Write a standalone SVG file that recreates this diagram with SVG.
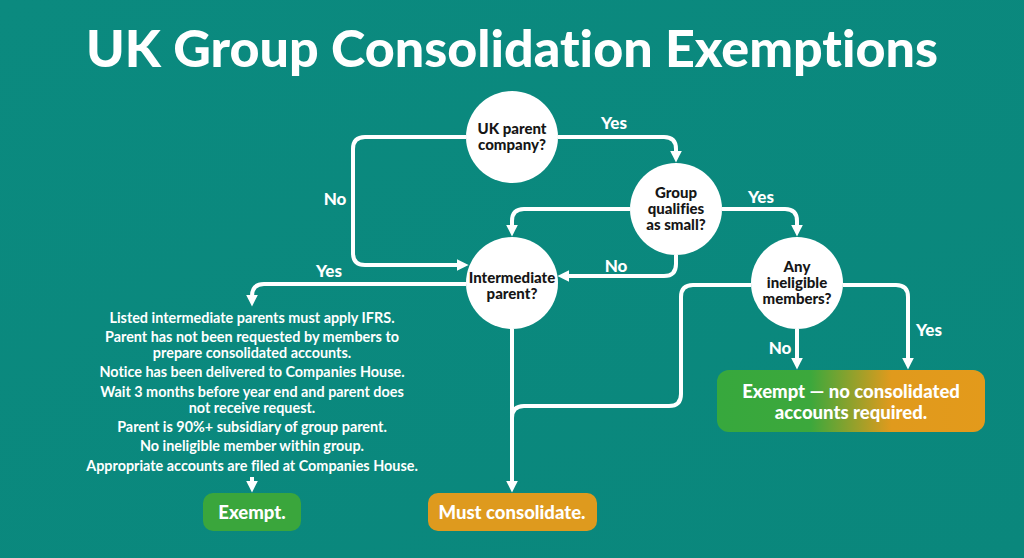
<svg xmlns="http://www.w3.org/2000/svg" width="1024" height="558" viewBox="0 0 1024 558">
  <defs>
    <linearGradient id="bg" x1="0" y1="0" x2="1" y2="1">
      <stop offset="0" stop-color="#0b8a7f"/>
      <stop offset="1" stop-color="#0a877c"/>
    </linearGradient>
    <linearGradient id="exgrad" x1="0" y1="0" x2="1" y2="0">
      <stop offset="0" stop-color="#37a83d"/>
      <stop offset="0.35" stop-color="#3ca83c"/>
      <stop offset="0.65" stop-color="#e09a1d"/>
      <stop offset="1" stop-color="#e39a1b"/>
    </linearGradient>
    <marker id="arr" viewBox="0 0 10 10" refX="2" refY="5" markerWidth="12" markerHeight="12" markerUnits="userSpaceOnUse" orient="auto">
      <path d="M0,0 L10,5 L0,10 Z" fill="#ffffff"/>
    </marker>
    <style>
      text { font-variant-ligatures: none; font-family: Lato, "Open Sans", "Liberation Sans", sans-serif; }
      .title { font-weight: 900; font-size: 51px; fill: #ffffff; }
      .q { font-weight: 900; font-size: 15px; fill: #161616; text-anchor: middle; }
      .lbl { font-weight: 900; font-size: 17px; fill: #ffffff; text-anchor: middle; }
      .cond { font-weight: 700; font-size: 14.4px; fill: #ffffff; text-anchor: middle; }
      .box { font-weight: 900; font-size: 18.5px; fill: #ffffff; text-anchor: middle; }
      .circ { fill: #ffffff; }
      .conn path { fill: none; stroke: #ffffff; stroke-width: 4; }
    </style>
  </defs>

  <rect x="0" y="0" width="1024" height="558" fill="url(#bg)"/>

  <text class="title" x="512" y="67" text-anchor="middle" textLength="852" lengthAdjust="spacingAndGlyphs">UK Group Consolidation Exemptions</text>

  <g id="connectors" class="conn">
    <path d="M466,137 H365 Q353,137 353,149 V253 Q353,265 365,265 H459" marker-end="url(#arr)"/>
    <path d="M558,137 H664 Q676,137 676,149 V153" marker-end="url(#arr)"/>
    <path d="M630,209 H524 Q512,209 512,221 V227" marker-end="url(#arr)"/>
    <path d="M676,255 V264 Q676,276 664,276 H567" marker-end="url(#arr)"/>
    <path d="M722,209 H785 Q797,209 797,221 V227" marker-end="url(#arr)"/>
    <path d="M466,284 H264 Q252,284 252,296 V297" marker-end="url(#arr)"/>
    <path d="M512,329 V483" marker-end="url(#arr)"/>
    <path d="M751,285 H693 Q681,285 681,297 V394 Q681,406 669,406 H524 Q512,406 512,418"/>
    <path d="M797,329 V360" marker-end="url(#arr)"/>
    <path d="M843,285 H896 Q908,285 908,297 V360" marker-end="url(#arr)"/>
    <path d="M252,477 V483" marker-end="url(#arr)"/>
  </g>

  <g id="labels">
    <text class="lbl" x="614" y="129">Yes</text>
    <text class="lbl" x="335" y="205">No</text>
    <text class="lbl" x="761" y="203">Yes</text>
    <text class="lbl" x="616" y="272">No</text>
    <text class="lbl" x="329" y="277">Yes</text>
    <text class="lbl" x="929" y="336">Yes</text>
    <text class="lbl" x="780" y="354">No</text>
  </g>

  <g id="q-uk-parent">
    <circle class="circ" cx="512" cy="137" r="46"/>
    <text class="q" x="512" y="134">UK parent</text>
    <text class="q" x="512" y="150">company?</text>
  </g>

  <g id="q-small">
    <circle class="circ" cx="676" cy="209" r="46"/>
    <text class="q" x="676" y="198">Group</text>
    <text class="q" x="676" y="214">qualifies</text>
    <text class="q" x="676" y="230">as small?</text>
  </g>

  <g id="q-intermediate">
    <circle class="circ" cx="512" cy="283" r="46"/>
    <text class="q" x="512" y="283">Intermediate</text>
    <text class="q" x="512" y="299">parent?</text>
  </g>

  <g id="q-ineligible">
    <circle class="circ" cx="797" cy="283" r="46"/>
    <text class="q" x="797" y="272">Any</text>
    <text class="q" x="797" y="288">ineligible</text>
    <text class="q" x="797" y="304">members?</text>
  </g>

  <g id="conditions">
    <text class="cond" x="252" y="323">Listed intermediate parents must apply IFRS.</text>
    <text class="cond" x="252" y="342">Parent has not been requested by members to</text>
    <text class="cond" x="252" y="358">prepare consolidated accounts.</text>
    <text class="cond" x="252" y="377">Notice has been delivered to Companies House.</text>
    <text class="cond" x="252" y="397">Wait 3 months before year end and parent does</text>
    <text class="cond" x="252" y="413">not receive request.</text>
    <text class="cond" x="252" y="432">Parent is 90%+ subsidiary of group parent.</text>
    <text class="cond" x="252" y="451">No ineligible member within group.</text>
    <text class="cond" x="252" y="471">Appropriate accounts are filed at Companies House.</text>
  </g>

  <g id="exempt-no-consolidated">
    <rect x="717" y="370" width="268" height="62" rx="12" fill="url(#exgrad)"/>
    <text class="box" x="851" y="398">Exempt — no consolidated</text>
    <text class="box" x="851" y="419">accounts required.</text>
  </g>

  <g id="must-consolidate">
    <rect x="428" y="493" width="169" height="38" rx="10" fill="#de9a1e"/>
    <text class="box" x="512" y="519">Must consolidate.</text>
  </g>

  <g id="exempt">
    <rect x="203" y="493" width="98" height="38" rx="10" fill="#3aa63c"/>
    <text class="box" x="252" y="519">Exempt.</text>
  </g>
</svg>
